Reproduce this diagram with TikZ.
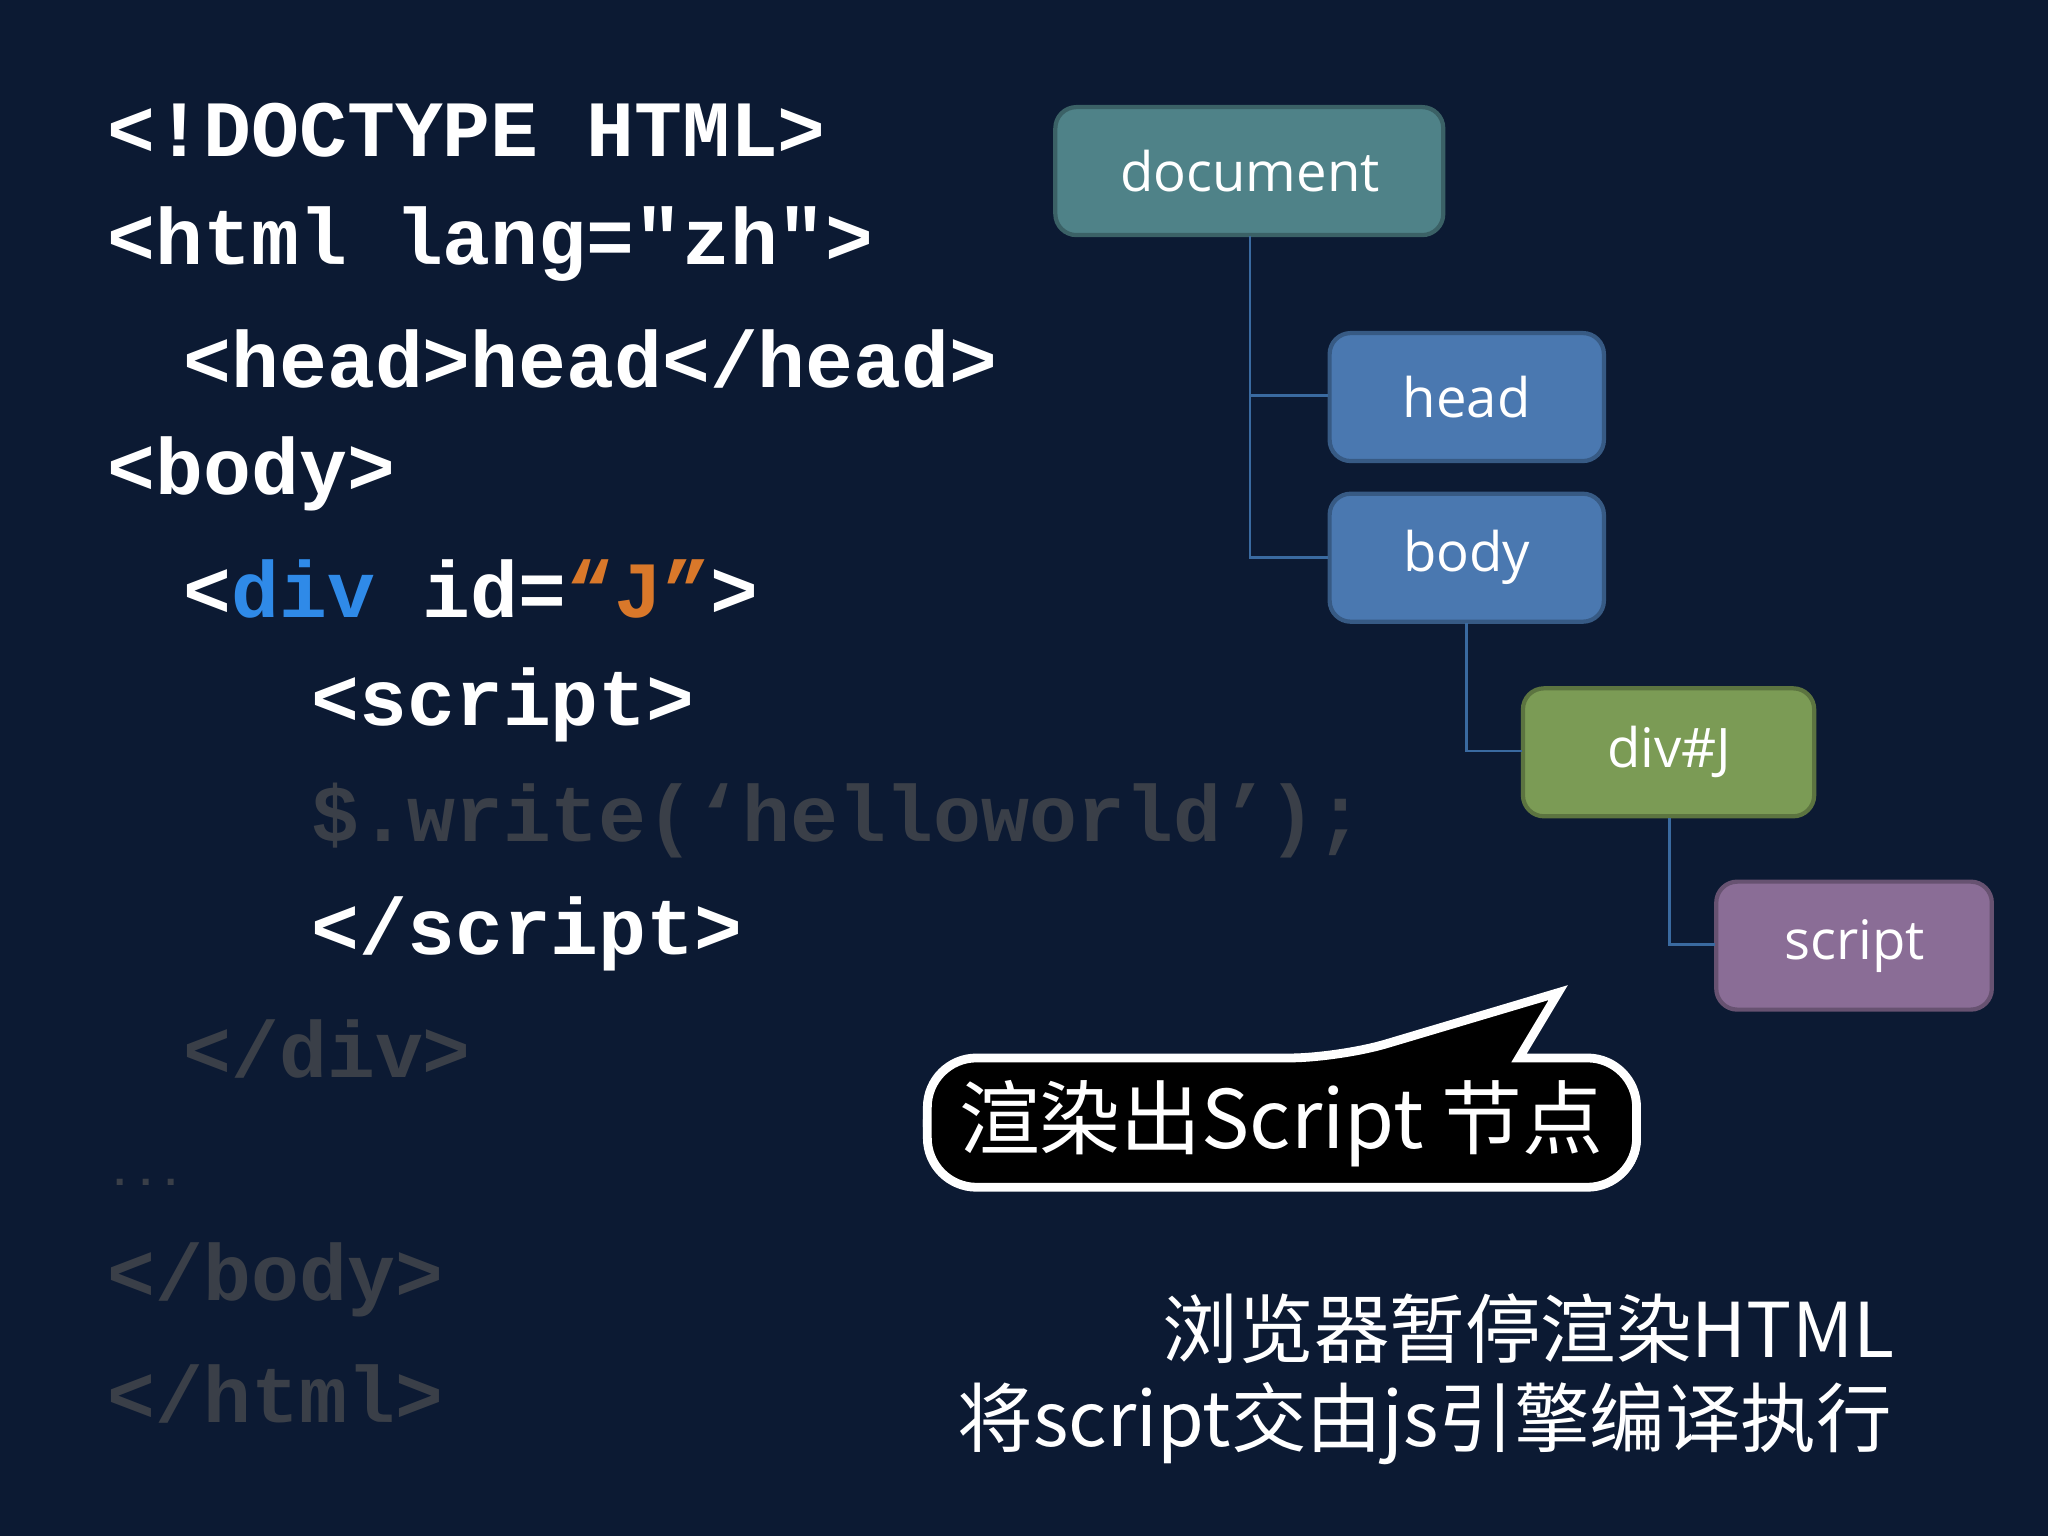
\documentclass[tikz,border=0pt]{standalone}
\usepackage{fontspec}
\setmainfont{Open Sans}
\setmonofont{Liberation Mono}
\newfontfamily\cjk{Noto Sans CJK SC}
\definecolor{bg}{HTML}{0C1A33}
\definecolor{dim}{HTML}{3A3F48}
\definecolor{kw}{HTML}{2F8AE8}
\definecolor{og}{HTML}{D9782A}
\definecolor{cdoc}{HTML}{4F8288}
\definecolor{chead}{HTML}{4A78B0}
\definecolor{cdiv}{HTML}{7B9B55}
\definecolor{cscr}{HTML}{8A6D96}
\definecolor{link}{HTML}{3A6AA0}
\begin{document}
\begin{tikzpicture}[x=0.01306cm,y=-0.01306cm,
  code/.style={anchor=west,inner sep=0,font=\fontsize{22.7}{24}\ttfamily\bfseries,text=white},
  dimcode/.style={code,text=dim},
  tnode/.style={draw=#1!75!black,line width=1.2pt,fill=#1,rounded corners=6pt,text=white,font=\fontsize{15.5}{18}\selectfont},
  conn/.style={draw=link,line width=0.8pt}]
\fill[bg] (0,0) rectangle (1568,1176);
\node[code] (l1) at (82,100) {<!DOCTYPE HTML>};
\node[code] (l2) at (82,187) {<html lang="zh">};
\node[code] (l3) at (140,275) {<head>head</head>};
\node[code] (l4) at (82,363) {<body>};
\node[code] (l5) at (140,451) {<\textcolor{kw}{div} id=\textcolor{og}{“J”}>};
\node[code] (l6) at (238,540) {<script>};
\node[dimcode] (l7) at (238,628) {\$.write(‘helloworld’);};
\node[code] (l8) at (238,715) {</script>};
\node[dimcode] (l9) at (140,803) {</div>};
\node[dimcode,font=\fontsize{12}{14}\ttfamily\bfseries] (l10) at (82,905) {...};
\node[dimcode] (l11) at (82,980) {</body>};
\node[dimcode] (l12) at (82,1067) {</html>};
% tree
\path[tnode=cdoc] (808,82) rectangle (1105,180);
\node[text=white,font=\fontsize{15.5}{18}\selectfont] (doc) at (957,131) {document};
\path[tnode=chead] (1018,255) rectangle (1228,353);
\node[text=white,font=\fontsize{15.5}{18}\selectfont] (head) at (1123,304) {head};
\path[tnode=chead] (1018,378) rectangle (1228,476);
\node[text=white,font=\fontsize{15.5}{18}\selectfont] (body) at (1123,427) {body};
\path[tnode=cdiv] (1166,527) rectangle (1389,625);
\node[text=white,font=\fontsize{15.5}{18}\selectfont] (div) at (1278,576) {div\#J};
\path[tnode=cscr] (1314,675) rectangle (1525,773);
\node[text=white,font=\fontsize{15.5}{18}\selectfont] (scr) at (1420,724) {script};
\coordinate (docb) at (957,181);
\coordinate (bodyb) at (1123,477);
\coordinate (divb) at (1278,626);
\draw[conn] (docb) -- (957,427) -- (1017,427);
\draw[conn] (957,303) -- (1017,303);
\draw[conn] (bodyb) -- (1123,575) -- (1165,575);
\draw[conn] (divb) -- (1278,723) -- (1313,723);
% callout
\draw[draw=white,fill=black,line width=2.5pt,rounded corners=14pt]
  (710,820) -- (710,900) -- (1253,909) -- (1253,820) -- cycle;
\draw[draw=white,fill=black,line width=2.5pt,rounded corners=14pt]
  (710,810) -- (1025,810) [sharp corners]-- (1193,760) -- (1163,810) [rounded corners=14pt] -- (1253,810) -- (1253,909) -- (710,909) -- cycle;
\node[text=white,font=\fontsize{23}{26}\cjk] (call) at (981,860) {渲染出Script 节点};
% bottom text
\node[anchor=east,text=white,font=\fontsize{21.5}{24}\cjk] (b1) at (1460,1017) {浏览器暂停渲染HTML};
\node[anchor=east,text=white,font=\fontsize{21.5}{24}\cjk] (b2) at (1458,1090) {将script交由js引擎编译执行};
\end{tikzpicture}
\end{document}
